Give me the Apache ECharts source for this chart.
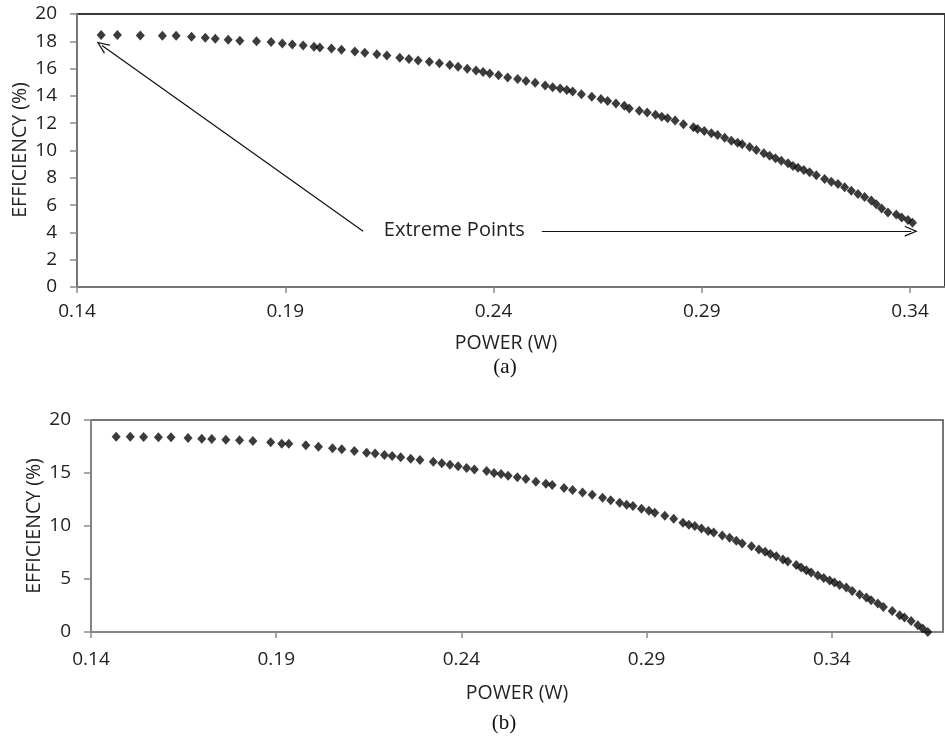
<!DOCTYPE html>
<html>
<head>
<meta charset="utf-8">
<script src="https://cdn.jsdelivr.net/npm/echarts@6/dist/echarts.min.js"></script>
<style>html,body{margin:0;padding:0;background:#fff;}#c{width:945px;height:746px;}</style>
</head>
<body>
<div id="c"></div>
<script>
// ---- data ----
const xTickValues = [0.14, 0.19, 0.24, 0.29, 0.34];
const topYTicks = [0, 2, 4, 6, 8, 10, 12, 14, 16, 18, 20];
const botYTicks = [0, 5, 10, 15, 20];

const topPower = [0.1458,0.1497,0.1552,0.1605,0.1638,0.1675,0.1708,0.1732,0.1763,0.1791,0.1831,0.1866,0.1893,0.1917,0.1943,0.1969,0.1983,0.2011,0.2035,0.2067,0.2091,0.2120,0.2144,0.2175,0.2197,0.2219,0.2246,0.2270,0.2295,0.2315,0.2337,0.2358,0.2375,0.2391,0.2412,0.2434,0.2458,0.2478,0.2500,0.2524,0.2542,0.2560,0.2576,0.2590,0.2611,0.2636,0.2658,0.2674,0.2694,0.2714,0.2726,0.2750,0.2769,0.2789,0.2804,0.2818,0.2836,0.2856,0.2880,0.2890,0.2906,0.2923,0.2938,0.2955,0.2971,0.2986,0.2997,0.3015,0.3031,0.3049,0.3063,0.3077,0.3091,0.3107,0.3119,0.3131,0.3145,0.3159,0.3175,0.3195,0.3211,0.3227,0.3243,0.3259,0.3275,0.3291,0.3307,0.3319,0.3332,0.3347,0.3367,0.3380,0.3395,0.3406];
const topEff = [18.46,18.46,18.43,18.41,18.41,18.33,18.26,18.19,18.11,18.04,18.0,17.94,17.84,17.77,17.69,17.60,17.55,17.47,17.38,17.25,17.16,17.06,16.96,16.79,16.70,16.59,16.50,16.40,16.26,16.13,15.98,15.86,15.76,15.64,15.52,15.34,15.23,15.10,14.96,14.76,14.64,14.54,14.44,14.32,14.13,13.93,13.78,13.63,13.44,13.27,13.07,12.92,12.78,12.61,12.48,12.36,12.19,11.92,11.70,11.58,11.43,11.26,11.14,10.94,10.72,10.57,10.46,10.26,10.04,9.79,9.62,9.43,9.25,9.06,8.86,8.74,8.57,8.40,8.18,7.91,7.71,7.54,7.30,7.05,6.81,6.59,6.34,6.07,5.76,5.46,5.32,5.10,4.90,4.70];

const botPower = [0.1468,0.1506,0.1542,0.1582,0.1616,0.1662,0.1699,0.1726,0.1764,0.1801,0.1837,0.1885,0.1915,0.1934,0.1980,0.2014,0.2052,0.2077,0.2111,0.2144,0.2167,0.2192,0.2213,0.2236,0.2263,0.2288,0.2324,0.2347,0.2369,0.2391,0.2414,0.2435,0.2468,0.2488,0.2507,0.2526,0.2551,0.2574,0.2601,0.2628,0.2645,0.2677,0.2700,0.2727,0.2753,0.2781,0.2803,0.2827,0.2846,0.2863,0.2886,0.2906,0.2922,0.2949,0.2973,0.2998,0.3014,0.3030,0.3048,0.3066,0.3081,0.3104,0.3124,0.3142,0.3158,0.3183,0.3203,0.3220,0.3234,0.3250,0.3268,0.3281,0.3304,0.3317,0.3331,0.3344,0.3362,0.3378,0.3394,0.3407,0.3421,0.3439,0.3455,0.3475,0.3493,0.3506,0.3524,0.3539,0.3563,0.3583,0.3596,0.3614,0.3632,0.3645,0.3659];
const botEff = [18.42,18.42,18.39,18.37,18.37,18.30,18.23,18.20,18.14,18.08,18.02,17.89,17.76,17.76,17.61,17.48,17.33,17.23,17.07,16.91,16.85,16.69,16.60,16.48,16.34,16.22,16.06,15.91,15.78,15.63,15.47,15.34,15.18,14.99,14.90,14.74,14.59,14.43,14.17,13.98,13.86,13.58,13.39,13.17,12.94,12.66,12.44,12.19,12.00,11.88,11.62,11.43,11.24,10.96,10.68,10.30,10.11,9.99,9.77,9.54,9.39,9.11,8.88,8.60,8.35,8.10,7.78,7.56,7.37,7.15,6.84,6.65,6.33,6.08,5.83,5.61,5.33,5.10,4.86,4.67,4.44,4.19,3.87,3.53,3.25,2.99,2.68,2.36,1.98,1.58,1.36,1.04,0.63,0.32,0.00];

// annotation (top chart) in data coordinates
const annoText = 'Extreme Points';
const annoTextPos = [0.2306, 4.14];
const arrowLeft = [[0.2087, 4.09], [0.1460, 17.70]];
const arrowRight = [[0.2516, 4.09], [0.3403, 4.09]];

const xName = 'POWER (W)';
const yName = 'EFFICIENCY (%)';

// ---- chart ----
const FONT = 'Open Sans';
const TXT = '#222';
const AX = '#8a8a8a';
const chart = echarts.init(document.getElementById('c'), null, {renderer: 'canvas'});

function pairs(xs, ys) { return xs.map((x, i) => [x, ys[i]]); }

function xAxisCfg(gridIndex, max, margin) {
  return {
    type: 'value', gridIndex: gridIndex, min: 0.14, max: max,
    splitLine: {show: false},
    axisLine: {show: true, onZero: false, lineStyle: {color: AX, width: 1.5}},
    axisTick: {show: true, inside: false, length: 6, lineStyle: {color: AX, width: 1.5}, customValues: xTickValues},
    axisLabel: {show: true, margin: margin, color: TXT, fontFamily: FONT, fontSize: 19,
      customValues: xTickValues, formatter: v => v.toFixed(2)}
  };
}
function yAxisCfg(gridIndex, interval, ticks) {
  return {
    type: 'value', gridIndex: gridIndex, min: 0, max: 20, interval: interval,
    splitLine: {show: false},
    axisLine: {show: true, lineStyle: {color: AX, width: 1.5}},
    axisTick: {show: true, inside: false, length: 7, lineStyle: {color: AX, width: 1.5}, customValues: ticks},
    axisLabel: {show: true, margin: 20, color: TXT, fontFamily: FONT, fontSize: 19, customValues: ticks}
  };
}

const arrowSym = 'path://M5,0 L10,11 L8.8,11 L5,2.6 L1.2,11 L0,11 Z';

const option = {
  animation: false,
  backgroundColor: '#fff',
  grid: [
    {left: 77, top: 14, width: 870, height: 273, show: true, borderColor: '#3a3a3a', borderWidth: 2, backgroundColor: 'transparent'},
    {left: 91, top: 420, width: 852, height: 212, show: true, borderColor: '#4a4a4a', borderWidth: 1.5, backgroundColor: 'transparent'}
  ],
  xAxis: [xAxisCfg(0, 0.3484, 15), xAxisCfg(1, 0.37, 18)],
  yAxis: [yAxisCfg(0, 2, topYTicks), yAxisCfg(1, 5, botYTicks)],
  series: [
    {
      type: 'scatter', xAxisIndex: 0, yAxisIndex: 0,
      data: pairs(topPower, topEff),
      symbol: 'diamond', symbolSize: [9, 10],
      itemStyle: {color: '#0a0a0a'},
      markLine: {
        silent: true, animation: false,
        symbol: ['none', arrowSym], symbolSize: [11, 13],
        lineStyle: {color: '#111', width: 1.2, type: 'solid'},
        label: {show: false},
        data: [
          [{coord: arrowLeft[0]}, {coord: arrowLeft[1]}],
          [{coord: arrowRight[0]}, {coord: arrowRight[1]}]
        ]
      },
      markPoint: {
        silent: true, animation: false,
        symbol: 'circle', symbolSize: 1, itemStyle: {color: 'rgba(0,0,0,0)'},
        label: {show: true, position: 'inside', formatter: annoText, color: TXT, fontFamily: FONT, fontSize: 20},
        data: [{coord: annoTextPos}]
      }
    },
    {
      type: 'scatter', xAxisIndex: 1, yAxisIndex: 1,
      data: pairs(botPower, botEff),
      symbol: 'diamond', symbolSize: [9, 10],
      itemStyle: {color: '#0a0a0a'}
    }
  ],
  graphic: [
    {type: 'text', x: 506, y: 343, style: {text: xName, font: '19.5px "Open Sans"', fill: TXT, textAlign: 'center', textVerticalAlign: 'middle'}},
    {type: 'text', x: 505, y: 367, style: {text: '(a)', font: '21px "Liberation Serif"', fill: '#111', textAlign: 'center', textVerticalAlign: 'middle'}},
    {type: 'text', x: 20, y: 150, rotation: Math.PI / 2, style: {text: yName, font: '19.5px "Open Sans"', fill: TXT, textAlign: 'center', textVerticalAlign: 'middle'}},
    {type: 'text', x: 517, y: 693, style: {text: xName, font: '19.5px "Open Sans"', fill: TXT, textAlign: 'center', textVerticalAlign: 'middle'}},
    {type: 'text', x: 504, y: 723, style: {text: '(b)', font: '21px "Liberation Serif"', fill: '#111', textAlign: 'center', textVerticalAlign: 'middle'}},
    {type: 'text', x: 34, y: 526, rotation: Math.PI / 2, style: {text: yName, font: '19.5px "Open Sans"', fill: TXT, textAlign: 'center', textVerticalAlign: 'middle'}}
  ]
};
chart.setOption(option);
</script>
</body>
</html>
